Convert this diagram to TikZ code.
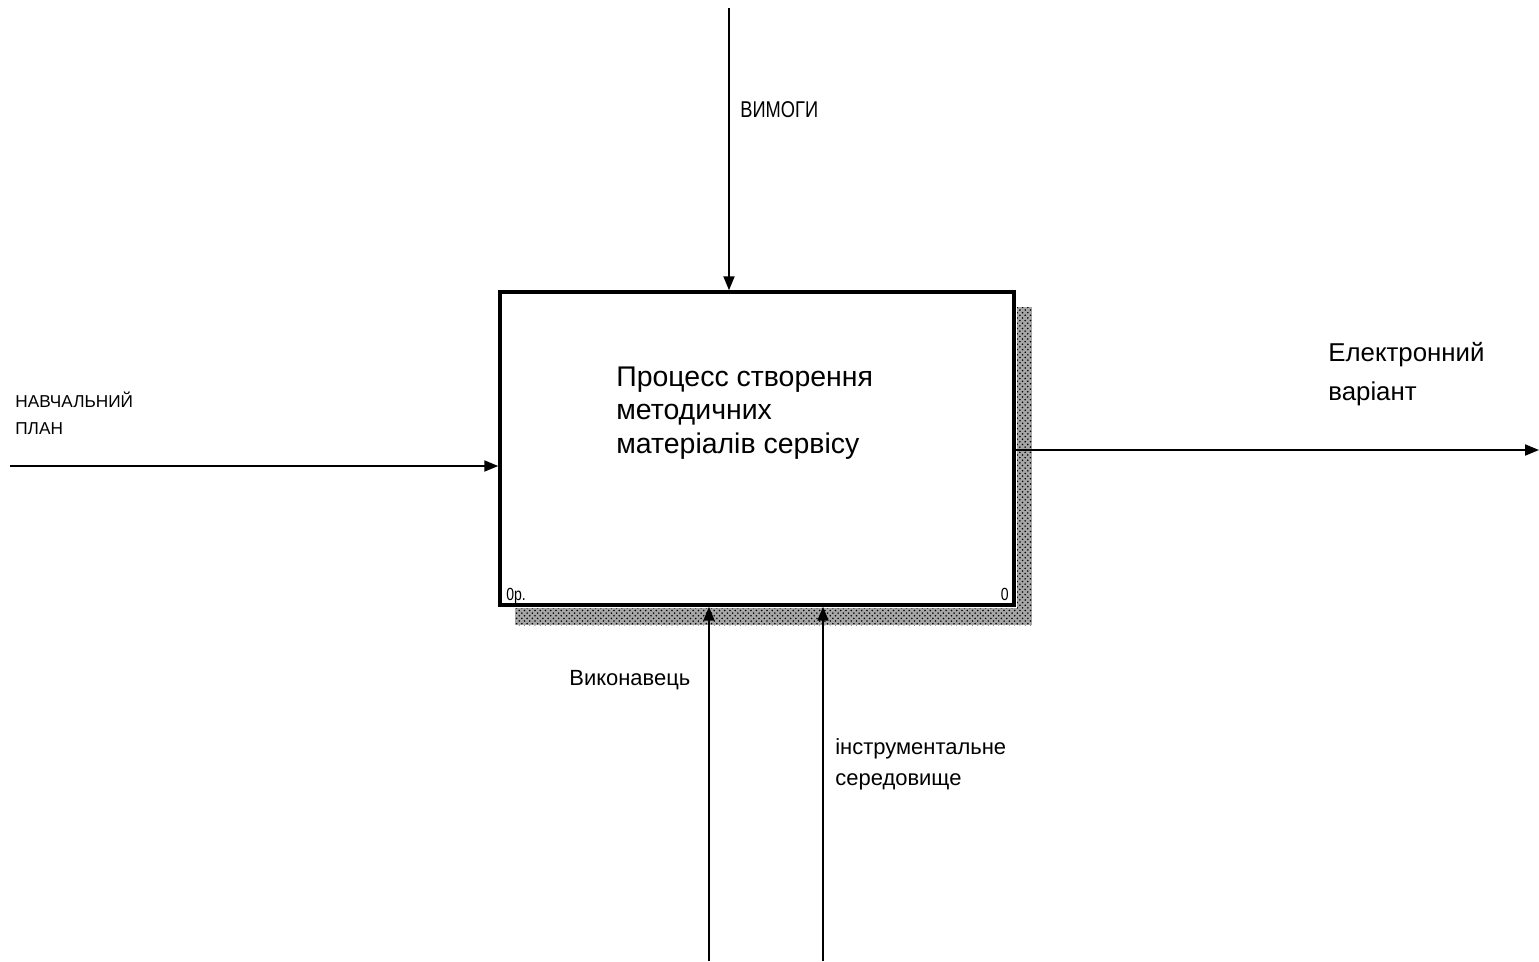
\documentclass[tikz,border=0pt]{standalone}
\usepackage{fontspec}
\setmainfont{Liberation Sans}
\newfontfamily\narrowsans[FakeStretch=0.8]{Liberation Sans}
\usetikzlibrary{arrows.meta,patterns}

\tikzset{
  flow/.style={line width=1.1pt, -{Triangle[length=0.28cm,width=0.22cm]}},
  lbl/.style={anchor=base west, inner sep=0pt, align=left},
  hatch/.style={fill=black!35, postaction={pattern=crosshatch dots, pattern color=black}},
}

\begin{document}
\begin{tikzpicture}[x=0.02cm, y=-0.02cm]
\useasboundingbox (0,0) rectangle (1539,961);

% Shadow of the activity box
\path[hatch] (1017,307) rectangle (1032,625);
\path[hatch] (515,608) rectangle (1017,625);

% Activity box and its text (base = last line)
\node[draw, line width=2pt, fill=white, minimum width=10.28cm, minimum height=6.26cm, inner sep=0pt] (proc) at (757,448.5) {};
\node[lbl, font=\fontsize{16.2}{19}\selectfont] (title) at (616,453) {Процесс створення\\методичних\\матеріалів сервісу};
\node[lbl, font=\narrowsans\fontsize{10}{12}\selectfont] (num) at (506,600) {0р.};
\node[anchor=base east, inner sep=0pt, font=\narrowsans\fontsize{10}{12}\selectfont] (idx) at (1009,600) {0};

% Arrows
\coordinate (ctrlsrc) at (729,8);
\coordinate (insrc) at (10,466);
\coordinate (outdst) at (1539,450);
\coordinate (mechA) at (709,961);
\coordinate (mechB) at (823,961);
\draw[flow] (ctrlsrc) -- (ctrlsrc |- proc.north);
\draw[flow] (insrc) -- (insrc -| proc.west);
\draw[flow] (outdst -| proc.east) -- (outdst);
\draw[flow] (mechA) -- (mechA |- proc.south);
\draw[flow] (mechB) -- (mechB |- proc.south);

% Arrow labels
\node[lbl, font=\narrowsans\fontsize{13}{15}\selectfont] (ctrllbl) at (740,117) {ВИМОГИ};
\node[lbl, font=\fontsize{9.8}{15}\selectfont] (inlbl) at (15,434) {НАВЧАЛЬНИЙ\\ПЛАН};
\node[lbl, font=\fontsize{14.7}{22}\selectfont] (outlbl) at (1328,400) {Електронний\\варіант};
\node[lbl, font=\fontsize{12.5}{15}\selectfont] (mechAlbl) at (569,685) {Виконавець};
\node[lbl, font=\fontsize{12.5}{17.6}\selectfont] (mechBlbl) at (835,785) {інструментальне\\середовище};
\end{tikzpicture}
\end{document}
